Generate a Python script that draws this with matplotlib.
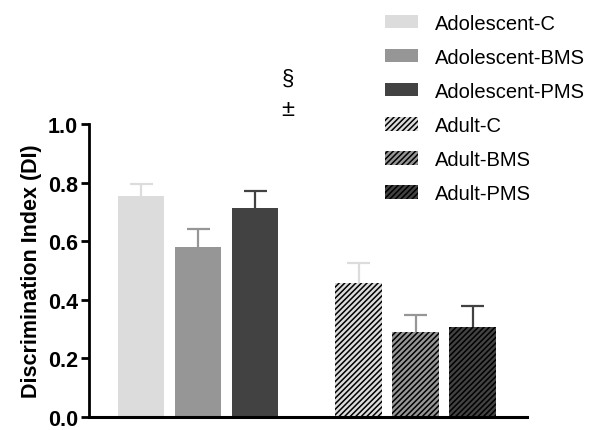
import matplotlib
matplotlib.use("Agg")
import matplotlib.pyplot as plt
from matplotlib.patches import Patch

groups = ["Adolescent-C", "Adolescent-BMS", "Adolescent-PMS",
          "Adult-C", "Adult-BMS", "Adult-PMS"]
means = [0.753, 0.580, 0.713, 0.456, 0.290, 0.309]
sems = [0.041, 0.062, 0.057, 0.068, 0.058, 0.069]
colors = ["#dcdcdc", "#969696", "#424242", "#dcdcdc", "#969696", "#424242"]
hatches = ["", "", "", "//////", "//////", "//////"]
positions = [0, 1, 2, 3.82, 4.82, 5.82]

plt.rcParams["font.family"] = ["Liberation Sans", "DejaVu Sans"]
plt.rcParams["hatch.linewidth"] = 1.1


def main():
    fig = plt.figure(figsize=(6.03, 4.31), dpi=100)
    ax = fig.add_axes([0.148, 0.03, 0.726, 0.68])

    cap = 0.2
    for x, m, s, c, h in zip(positions, means, sems, colors, hatches):
        # black edgecolor so the hatch lines come out black; linewidth 0 hides the outline
        ax.bar(x, m, width=0.82, color=c, hatch=h, edgecolor="black", linewidth=0, zorder=2)
        ax.vlines(x, m, m + s, color=c, linewidth=1.6, zorder=1)
        ax.hlines(m + s, x - cap, x + cap, color=c, linewidth=1.6, zorder=1)

    # significance markers over the adolescent PMS group
    ax.text(2.58, 1.155, "§", ha="center", va="center", fontsize=16, clip_on=False)
    ax.text(2.58, 1.05, "±", ha="center", va="center", fontsize=17, clip_on=False)

    ax.set_xlim(-0.91, 6.77)
    ax.set_ylim(0, 1.0)
    ax.set_yticks([0.0, 0.2, 0.4, 0.6, 0.8, 1.0])
    ax.set_yticklabels(["0.0", "0.2", "0.4", "0.6", "0.8", "1.0"],
                       fontsize=15.5, fontweight="bold")
    ax.set_xticks([])
    ax.set_ylabel("Discrimination Index (DI)", fontsize=15.5, fontweight="bold", labelpad=4)

    for side in ["top", "right"]:
        ax.spines[side].set_visible(False)
    ax.spines["left"].set_linewidth(2)
    ax.spines["bottom"].set_linewidth(2.2)
    ax.tick_params(axis="y", length=6, width=2, direction="out", pad=2)

    handles = [Patch(facecolor=c, edgecolor="black", hatch=h, linewidth=0)
               for c, h in zip(colors, hatches)]
    fig.legend(handles, groups, loc="upper left", bbox_to_anchor=(0.609, 1.008),
               frameon=False, fontsize=14.5, handlelength=1.6, handleheight=0.64,
               handletextpad=0.85, labelspacing=0.75)

    fig.savefig("out.png", dpi=100)


if __name__ == "__main__":
    main()
